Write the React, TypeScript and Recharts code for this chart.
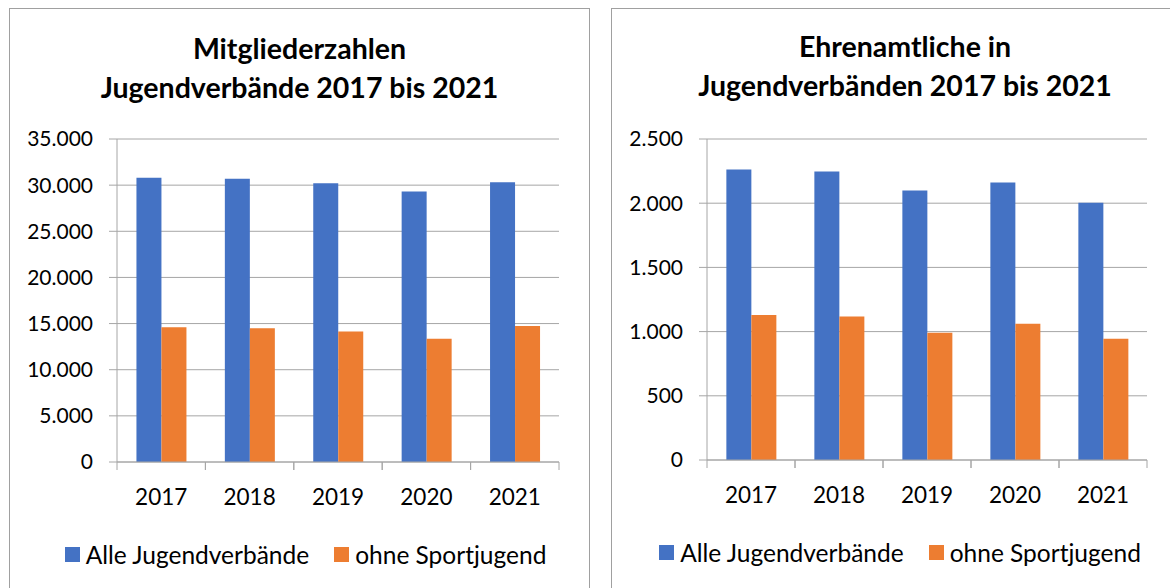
import React from "react";
import {
  BarChart,
  Bar,
  XAxis,
  YAxis,
  CartesianGrid,
  Legend,
} from "recharts";

const years = ["2017", "2018", "2019", "2020", "2021"];
const seriesNames = ["Alle Jugendverbände", "ohne Sportjugend"];
const seriesColors = ["#4472C4", "#ED7D31"];

// Mitgliederzahlen
const mitgliederAlle = [30800, 30700, 30200, 29300, 30300];
const mitgliederOhne = [14600, 14500, 14150, 13350, 14750];
const mitgliederTicks = [0, 5000, 10000, 15000, 20000, 25000, 30000, 35000];

// Ehrenamtliche
const ehrenamtAlle = [2262, 2247, 2099, 2161, 2003];
const ehrenamtOhne = [1130, 1117, 992, 1062, 945];
const ehrenamtTicks = [0, 500, 1000, 1500, 2000, 2500];

const FONT = "Lato, 'Open Sans', sans-serif";
const GRID = "#a6a6a6";

// German thousands separator: 35000 -> "35.000"
const fmt = (v: number) => String(v).replace(/\B(?=(\d{3})+(?!\d))/g, ".");

const toRows = (a: number[], b: number[]) =>
  years.map((year, i) => ({ year, alle: a[i], ohne: b[i] }));

function YearTick(props: any) {
  const { x, y, payload, band } = props;
  return (
    <g>
      <line x1={x - band / 2} y1={y} x2={x - band / 2} y2={y + 8} stroke={GRID} />
      <line x1={x + band / 2} y1={y} x2={x + band / 2} y2={y + 8} stroke={GRID} />
      <text
        x={x}
        y={y + 35}
        dy="0.36em"
        textAnchor="middle"
        fontFamily={FONT}
        fontSize={22.5}
        fill="#000"
      >
        {payload.value}
      </text>
    </g>
  );
}

function LegendBox() {
  return (
    <div
      style={{
        height: 30,
        display: "flex",
        alignItems: "center",
        justifyContent: "center",
        fontFamily: FONT,
        fontSize: 24.5,
        color: "#000",
        whiteSpace: "nowrap",
      }}
    >
      {seriesNames.map((name, i) => (
        <span
          key={name}
          style={{ display: "flex", alignItems: "center", marginLeft: i ? 25 : 0 }}
        >
          <span
            style={{
              width: 15,
              height: 15,
              background: seriesColors[i],
              marginRight: 6,
              display: "inline-block",
            }}
          />
          {name}
        </span>
      ))}
    </div>
  );
}

type PanelProps = {
  left: number;
  width: number;
  titles: string[];
  titleTop: number;
  data: { year: string; alle: number; ohne: number }[];
  ticks: number[];
  yAxisWidth: number;
  plotRight: number; // margin right inside the panel
  plotTop: number;
  marginBottom: number;
  xAxisHeight: number;
  legendLeft: number;
};

function Panel(p: PanelProps) {
  const plotWidth = p.width - p.yAxisWidth - p.plotRight;
  const band = plotWidth / years.length;
  const max = p.ticks[p.ticks.length - 1];
  return (
    <div
      style={{
        position: "absolute",
        left: p.left,
        top: 8,
        width: p.width,
        height: 620,
        border: "1px solid #a0a0a0",
        boxSizing: "border-box",
      }}
    >
      <div
        style={{
          position: "absolute",
          left: 0,
          top: p.titleTop,
          width: "100%",
          textAlign: "center",
          fontFamily: FONT,
          fontWeight: 700,
          fontSize: 28.5,
          lineHeight: "39px",
          color: "#000",
        }}
      >
        {p.titles.map((t) => (
          <div key={t}>{t}</div>
        ))}
      </div>
      <div style={{ position: "absolute", left: -1, top: -9 }}>
        <BarChart
          width={p.width}
          height={588}
          data={p.data}
          barCategoryGap="22%"
          barGap={0}
          margin={{ top: p.plotTop, right: p.plotRight, bottom: p.marginBottom, left: 0 }}
        >
          <CartesianGrid vertical={false} stroke={GRID} />
          <XAxis
            dataKey="year"
            axisLine={{ stroke: GRID }}
            tickLine={false}
            tickSize={0}
            tickMargin={0}
            height={p.xAxisHeight}
            interval={0}
            tick={<YearTick band={band} />}
          />
          <YAxis
            width={p.yAxisWidth}
            domain={[0, max]}
            ticks={p.ticks}
            interval={0}
            tickFormatter={fmt}
            axisLine={{ stroke: GRID }}
            tickLine={{ stroke: GRID }}
            tickSize={8}
            tickMargin={16}
            tick={{ fontFamily: FONT, fontSize: 21, fill: "#000" }}
          />
          <Legend
            verticalAlign="bottom"
            content={<LegendBox />}
            wrapperStyle={{ left: p.legendLeft, width: p.width }}
          />
          <Bar
            dataKey="alle"
            name={seriesNames[0]}
            fill={seriesColors[0]}
            isAnimationActive={false}
          />
          <Bar
            dataKey="ohne"
            name={seriesNames[1]}
            fill={seriesColors[1]}
            isAnimationActive={false}
          />
        </BarChart>
      </div>
    </div>
  );
}

export default function App() {
  return (
    <div
      style={{
        position: "absolute",
        left: 0,
        top: 0,
        width: 1170,
        height: 588,
        overflow: "hidden",
        background: "#fff",
      }}
    >
      <Panel
        left={9}
        width={581}
        titles={["Mitgliederzahlen", "Jugendverbände 2017 bis 2021"]}
        titleTop={20}
        data={toRows(mitgliederAlle, mitgliederOhne)}
        ticks={mitgliederTicks}
        yAxisWidth={108}
        plotRight={31}
        plotTop={139}
        marginBottom={19}
        xAxisHeight={77}
        legendLeft={6}
      />
      <Panel
        left={611}
        width={588}
        titles={["Ehrenamtliche in", "Jugendverbänden 2017 bis 2021"]}
        titleTop={18}
        data={toRows(ehrenamtAlle, ehrenamtOhne)}
        ticks={ehrenamtTicks}
        yAxisWidth={96}
        plotRight={52}
        plotTop={139}
        marginBottom={21}
        xAxisHeight={77}
        legendLeft={-5}
      />
    </div>
  );
}
